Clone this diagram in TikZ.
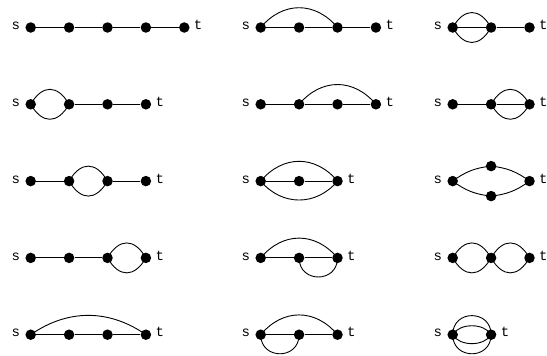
\documentclass[tikz,border=0pt]{standalone}
\usepackage{fontspec}
\setmonofont{Liberation Mono}
\usepackage{tikz}
\usetikzlibrary{positioning}

\begin{document}
\begin{tikzpicture}[
				x=1pt, y=1pt,
				vtx/.style={
					circle, fill=black, draw=none,
					minimum size=10.5pt, inner sep=0pt
				},
				lbl/.style={
					font=\ttfamily\fontsize{14}{14}\selectfont,
					inner sep=0pt, text height=1ex, text depth=0pt
				},
				edge/.style={line width=0.9pt, black},
				hump/.style={edge, bend left=60, looseness=1.54},
				dip/.style={edge, bend right=60, looseness=1.54},
				ihump/.style={edge, bend left=60, looseness=0.92},
				idip/.style={edge, bend right=60, looseness=0.92},
				ohump/.style={edge, bend left=90, looseness=1.7},
				odip/.style={edge, bend right=90, looseness=1.7},
				wide/.style={edge, bend left=50, looseness=1.15},
				widedip/.style={edge, bend right=50, looseness=1.1},
				longarc/.style={edge, bend left=35},
				slant/.style={edge, bend left=15},
				slantdip/.style={edge, bend right=15}
				]
				\useasboundingbox (0,0) rectangle (547,-356);
				
				% row 1
				\node[vtx] (g1s) at (30.7, -27.5) {};
				\node[vtx] (g1a) at (69.1, -27.5) {};
				\node[vtx] (g1b) at (107.5, -27.5) {};
				\node[vtx] (g1c) at (145.9, -27.5) {};
				\node[vtx] (g1t) at (184.3, -27.5) {};
				\node[lbl, left=5pt of g1s] (g1ls) {s};
				\node[lbl, right=4pt of g1t] (g1lt) {t};
				\draw[edge] (g1s) -- (g1a) -- (g1b) -- (g1c) -- (g1t);
				
				\node[vtx] (g2s) at (260.7, -27.5) {};
				\node[vtx] (g2a) at (299.1, -27.5) {};
				\node[vtx] (g2b) at (337.5, -27.5) {};
				\node[vtx] (g2t) at (375.9, -27.5) {};
				\node[lbl, left=5pt of g2s] (g2ls) {s};
				\node[lbl, right=4pt of g2t] (g2lt) {t};
				\draw[edge] (g2s) -- (g2a) -- (g2b) -- (g2t);
				\draw[wide] (g2s.center) to (g2b.center);
				
				\node[vtx] (g3s) at (452.7, -27.5) {};
				\node[vtx] (g3a) at (491.1, -27.5) {};
				\node[vtx] (g3t) at (529.5, -27.5) {};
				\node[lbl, left=5pt of g3s] (g3ls) {s};
				\node[lbl, right=4pt of g3t] (g3lt) {t};
				\draw[edge] (g3s) -- (g3a) -- (g3t);
				\draw[hump] (g3s.center) to (g3a.center);
				\draw[dip] (g3s.center) to (g3a.center);
				
				% row 2
				\node[vtx] (g4s) at (30.7, -104.3) {};
				\node[vtx] (g4a) at (69.1, -104.3) {};
				\node[vtx] (g4b) at (107.5, -104.3) {};
				\node[vtx] (g4t) at (145.9, -104.3) {};
				\node[lbl, left=5pt of g4s] (g4ls) {s};
				\node[lbl, right=4pt of g4t] (g4lt) {t};
				\draw[hump] (g4s.center) to (g4a.center);
				\draw[dip] (g4s.center) to (g4a.center);
				\draw[edge] (g4a) -- (g4b) -- (g4t);
				
				\node[vtx] (g5s) at (260.7, -104.3) {};
				\node[vtx] (g5a) at (299.1, -104.3) {};
				\node[vtx] (g5b) at (337.5, -104.3) {};
				\node[vtx] (g5t) at (375.9, -104.3) {};
				\node[lbl, left=5pt of g5s] (g5ls) {s};
				\node[lbl, right=4pt of g5t] (g5lt) {t};
				\draw[edge] (g5s) -- (g5a) -- (g5b) -- (g5t);
				\draw[wide] (g5a.center) to (g5t.center);
				
				\node[vtx] (g6s) at (452.7, -104.3) {};
				\node[vtx] (g6a) at (491.1, -104.3) {};
				\node[vtx] (g6t) at (529.5, -104.3) {};
				\node[lbl, left=5pt of g6s] (g6ls) {s};
				\node[lbl, right=4pt of g6t] (g6lt) {t};
				\draw[edge] (g6s) -- (g6a) -- (g6t);
				\draw[hump] (g6a.center) to (g6t.center);
				\draw[dip] (g6a.center) to (g6t.center);
				
				% row 3
				\node[vtx] (g7s) at (30.7, -181.1) {};
				\node[vtx] (g7a) at (69.1, -181.1) {};
				\node[vtx] (g7b) at (107.5, -181.1) {};
				\node[vtx] (g7t) at (145.9, -181.1) {};
				\node[lbl, left=5pt of g7s] (g7ls) {s};
				\node[lbl, right=4pt of g7t] (g7lt) {t};
				\draw[edge] (g7s) -- (g7a);
				\draw[hump] (g7a.center) to (g7b.center);
				\draw[dip] (g7a.center) to (g7b.center);
				\draw[edge] (g7b) -- (g7t);
				
				\node[vtx] (g8s) at (260.7, -181.1) {};
				\node[vtx] (g8a) at (299.1, -181.1) {};
				\node[vtx] (g8t) at (337.5, -181.1) {};
				\node[lbl, left=5pt of g8s] (g8ls) {s};
				\node[lbl, right=4pt of g8t] (g8lt) {t};
				\draw[edge] (g8s) -- (g8a) -- (g8t);
				\draw[wide] (g8s.center) to (g8t.center);
				\draw[widedip] (g8s.center) to (g8t.center);
				
				\node[vtx] (g9s) at (452.7, -181.1) {};
				\node[vtx] (g9u) at (491.1, -166.1) {};
				\node[vtx] (g9w) at (491.1, -196.1) {};
				\node[vtx] (g9t) at (529.5, -181.1) {};
				\node[lbl, left=5pt of g9s] (g9ls) {s};
				\node[lbl, right=4pt of g9t] (g9lt) {t};
				\draw[slant] (g9s.center) to (g9u.center);
				\draw[slant] (g9u.center) to (g9t.center);
				\draw[slantdip] (g9s.center) to (g9w.center);
				\draw[slantdip] (g9w.center) to (g9t.center);
				
				% row 4
				\node[vtx] (g10s) at (30.7, -257.9) {};
				\node[vtx] (g10a) at (69.1, -257.9) {};
				\node[vtx] (g10b) at (107.5, -257.9) {};
				\node[vtx] (g10t) at (145.9, -257.9) {};
				\node[lbl, left=5pt of g10s] (g10ls) {s};
				\node[lbl, right=4pt of g10t] (g10lt) {t};
				\draw[edge] (g10s) -- (g10a) -- (g10b);
				\draw[hump] (g10b.center) to (g10t.center);
				\draw[dip] (g10b.center) to (g10t.center);
				
				\node[vtx] (g11s) at (260.7, -257.9) {};
				\node[vtx] (g11a) at (299.1, -257.9) {};
				\node[vtx] (g11t) at (337.5, -257.9) {};
				\node[lbl, left=5pt of g11s] (g11ls) {s};
				\node[lbl, right=4pt of g11t] (g11lt) {t};
				\draw[edge] (g11s) -- (g11a) -- (g11t);
				\draw[wide] (g11s.center) to (g11t.center);
				\draw[odip] (g11a.center) to (g11t.center);
				
				\node[vtx] (g12s) at (452.7, -257.9) {};
				\node[vtx] (g12a) at (491.1, -257.9) {};
				\node[vtx] (g12t) at (529.5, -257.9) {};
				\node[lbl, left=5pt of g12s] (g12ls) {s};
				\node[lbl, right=4pt of g12t] (g12lt) {t};
				\draw[hump] (g12s.center) to (g12a.center);
				\draw[dip] (g12s.center) to (g12a.center);
				\draw[hump] (g12a.center) to (g12t.center);
				\draw[dip] (g12a.center) to (g12t.center);
				
				% row 5
				\node[vtx] (g13s) at (30.7, -334.7) {};
				\node[vtx] (g13a) at (69.1, -334.7) {};
				\node[vtx] (g13b) at (107.5, -334.7) {};
				\node[vtx] (g13t) at (145.9, -334.7) {};
				\node[lbl, left=5pt of g13s] (g13ls) {s};
				\node[lbl, right=4pt of g13t] (g13lt) {t};
				\draw[edge] (g13s) -- (g13a) -- (g13b) -- (g13t);
				\draw[longarc] (g13s.center) to (g13t.center);
				
				\node[vtx] (g14s) at (260.7, -334.7) {};
				\node[vtx] (g14a) at (299.1, -334.7) {};
				\node[vtx] (g14t) at (337.5, -334.7) {};
				\node[lbl, left=5pt of g14s] (g14ls) {s};
				\node[lbl, right=4pt of g14t] (g14lt) {t};
				\draw[edge] (g14s) -- (g14a) -- (g14t);
				\draw[wide] (g14s.center) to (g14t.center);
				\draw[odip] (g14s.center) to (g14a.center);
				
				\node[vtx] (g15s) at (452.7, -334.7) {};
				\node[vtx] (g15t) at (491.1, -334.7) {};
				\node[lbl, left=5pt of g15s] (g15ls) {s};
				\node[lbl, right=4pt of g15t] (g15lt) {t};
				\draw[ihump] (g15s.center) to (g15t.center);
				\draw[idip] (g15s.center) to (g15t.center);
				\draw[ohump] (g15s.center) to (g15t.center);
				\draw[odip] (g15s.center) to (g15t.center);
\end{tikzpicture}
\end{document}
